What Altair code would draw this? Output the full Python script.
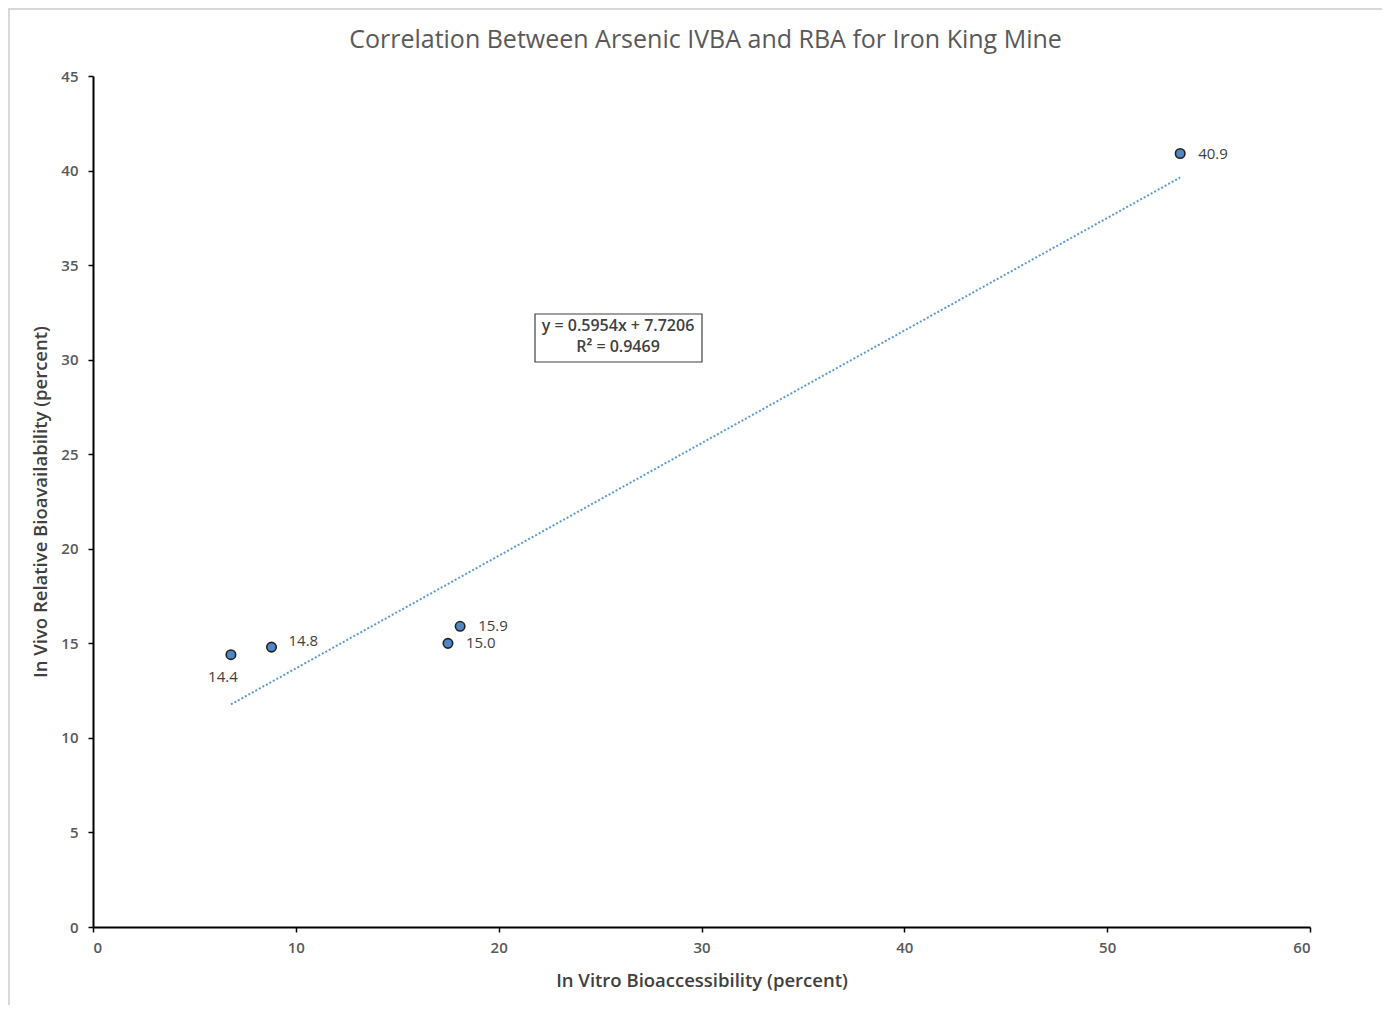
import altair as alt
import pandas as pd

title_text = "Correlation Between Arsenic IVBA and RBA for Iron King Mine"
ivba = [6.8, 8.8, 17.5, 18.1, 53.6]
rba = [14.4, 14.8, 15.0, 15.9, 40.9]
labels = ["14.4", "14.8", "15.0", "15.9", "40.9"]
eq_lines = ["y = 0.5954x + 7.7206", "R\u00b2 = 0.9469"]

df = pd.DataFrame({"ivba": ivba, "rba": rba, "label": labels})

FONT = "Open Sans"
W, H = 1217, 851

xenc = alt.X("ivba:Q", scale=alt.Scale(domain=[0, 60], nice=False),
             axis=alt.Axis(values=[0, 10, 20, 30, 40, 50, 60],
                           title="In Vitro Bioaccessibility (percent)",
                           titleY=53, titleBaseline="middle",
                           labelFontSize=15, labelPadding=8))
yenc = alt.Y("rba:Q", scale=alt.Scale(domain=[0, 45], nice=False),
             axis=alt.Axis(values=[0, 5, 10, 15, 20, 25, 30, 35, 40, 45],
                           title="In Vivo Relative Bioavailability (percent)",
                           titleX=-53, titleBaseline="middle",
                           labelFontSize=15, labelPadding=10))

base = alt.Chart(df)

border = alt.Chart(alt.Data(values=[{}])).mark_rect(
    filled=False, stroke="#d9d9d9", strokeWidth=2
).encode(x=alt.value(-84), x2=alt.value(W + 200), y=alt.value(-67), y2=alt.value(H + 200))

title = alt.Chart(pd.DataFrame({"t": [title_text]})).mark_text(
    align="center", baseline="middle", font=FONT, fontSize=25, color="#595959"
).encode(x=alt.value(W / 2 + 4), y=alt.value(-36), text="t:N")

trend = base.transform_regression("ivba", "rba").mark_line(
    color="#5b9bd5", strokeDash=[2, 2], strokeWidth=2
).encode(x=xenc, y=yenc)

points = base.mark_point(
    filled=True, fill="#4f86c6", stroke="#222222", strokeWidth=1.6, size=90, opacity=1
).encode(x=xenc, y=yenc)

lab_right = base.transform_filter("datum.label != '14.4' && datum.label != '14.8'").mark_text(
    align="left", baseline="middle", dx=18, fontSize=15, font=FONT, color="#404040"
).encode(x=xenc, y=yenc, text="label:N")

lab_up = base.transform_filter("datum.label == '14.8'").mark_text(
    align="left", baseline="middle", dx=17, dy=-6, fontSize=15, font=FONT, color="#404040"
).encode(x=xenc, y=yenc, text="label:N")

lab_below = base.transform_filter("datum.label == '14.4'").mark_text(
    align="center", baseline="middle", dx=-8, dy=22, fontSize=15, font=FONT, color="#404040"
).encode(x=xenc, y=yenc, text="label:N")

box = alt.Chart(alt.Data(values=[{}])).mark_rect(
    fill="white", stroke="#404040", strokeWidth=1.2
).encode(x=alt.value(442), x2=alt.value(609), y=alt.value(238), y2=alt.value(286))

eq_df = pd.DataFrame({"t": eq_lines, "i": [0, 1]})

eq1 = alt.Chart(eq_df).transform_filter("datum.i == 0").mark_text(
    align="center", baseline="middle", fontSize=16, font=FONT, color="#404040", fontWeight=600
).encode(x=alt.value(525), y=alt.value(250), text="t:N")
eq2 = alt.Chart(eq_df).transform_filter("datum.i == 1").mark_text(
    align="center", baseline="middle", fontSize=16, font=FONT, color="#404040", fontWeight=600
).encode(x=alt.value(525), y=alt.value(271), text="t:N")

chart = alt.layer(border, title, trend, points, lab_right, lab_up, lab_below, box, eq1, eq2).properties(
    width=W, height=H,
    autosize=alt.AutoSizeParams(type="none"),
    padding={"left": 85, "top": 68, "right": 72, "bottom": 78},
).configure_view(stroke=None).configure_axis(
    grid=False, domainColor="#000000", domainWidth=2, tickColor="#000000", tickWidth=1.5,
    tickSize=5, labelFont=FONT, labelColor="#595959",
    labelFontWeight=600, titleFont=FONT, titleFontSize=18.5, titleColor="#404040",
    titleFontWeight=600
).configure_axisY(labelAngle=0)

chart.save("out.html", embed_options={"renderer": "svg", "actions": False})
